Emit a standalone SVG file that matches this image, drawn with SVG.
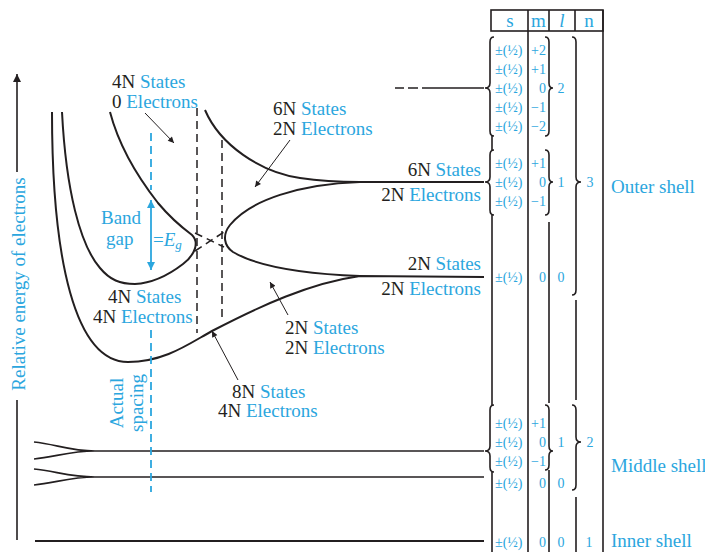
<svg xmlns="http://www.w3.org/2000/svg" width="705" height="552" viewBox="0 0 705 552">
<style>
.t{font-family:"Liberation Serif","Times New Roman",serif;font-size:19px;fill:#231f20}
.c{fill:#2ba6de}
.k{fill:#231f20}
.tb{font-family:"Liberation Serif","Times New Roman",serif;font-size:14px;fill:#2ba6de}
.hd{font-family:"Liberation Serif","Times New Roman",serif;font-size:19px;fill:#2ba6de;text-anchor:middle}
.curve{fill:none;stroke:#231f20;stroke-width:2}
.lvl{fill:none;stroke:#231f20;stroke-width:1.7}
.dash{fill:none;stroke:#231f20;stroke-width:1.5;stroke-dasharray:8 5}
.cdash{fill:none;stroke:#2ba6de;stroke-width:1.8;stroke-dasharray:8 5}
.ptr{fill:none;stroke:#231f20;stroke-width:1;marker-end:url(#ah)}
.rule{fill:none;stroke:#231f20;stroke-width:1.6}
</style>
<defs>
<marker id="ah" viewBox="0 0 10 10" refX="10" refY="5" markerWidth="9" markerHeight="6" orient="auto" markerUnits="userSpaceOnUse"><path d="M0,0 L10,5 L0,10 z" fill="#231f20"/></marker>
<marker id="cah" viewBox="0 0 10 10" refX="10" refY="5" markerWidth="12" markerHeight="8" orient="auto-start-reverse" markerUnits="userSpaceOnUse"><path d="M0,0 L10,5 L0,10 z" fill="#2ba6de"/></marker>
<marker id="kah" viewBox="0 0 10 10" refX="10" refY="5" markerWidth="12" markerHeight="8" orient="auto" markerUnits="userSpaceOnUse"><path d="M0,0 L10,5 L0,10 z" fill="#231f20"/></marker>
</defs>
<rect width="705" height="552" fill="#fff"/>

<g id="axis">
<line x1="17" y1="172" x2="17" y2="74" stroke="#231f20" stroke-width="1.6" marker-end="url(#kah)"/>
<line x1="17" y1="400" x2="17" y2="540" stroke="#231f20" stroke-width="1.6"/>
<text class="t c" transform="translate(25,284) rotate(-90)" text-anchor="middle">Relative energy of electrons</text>
</g>

<g id="bands">
<path class="curve" d="M52,112 C52,260 75,362 128,362 C165,362 190,343 212,331 C260,306 310,283 360,276 L484,277"/>
<path class="curve" d="M62,112 C66,190 80,245 100,268 C110,280 120,284 135,284 C155,283 170,274 183,264 C196,254 199,242 192,235 C180,226 168,215 158,203 C140,180 120,150 110,112"/>
<path class="curve" d="M205,110 C220,145 260,172 300,178 C320,181 340,182 360,182 L484,182"/>
<path class="curve" d="M360,182 C300,184 250,200 230,225 C222,235 224,246 233,252 C260,268 310,274 360,276"/>
</g>

<g id="inner-levels">
<path class="lvl" d="M34,442 C55,444 70,451 95,451 M34,459 C55,457 70,451 95,451 L484,451"/>
<path class="lvl" d="M34,469 C55,471 70,477 95,477 M34,485 C55,483 70,477 95,477 L484,477"/>
<line x1="35" y1="541" x2="484" y2="541" stroke="#231f20" stroke-width="2.2"/>
</g>

<g id="guides">
<line class="dash" x1="197" y1="108" x2="197" y2="333"/>
<line class="dash" x1="222" y1="140" x2="222" y2="322"/>
<line class="dash" x1="195" y1="233" x2="224" y2="247" stroke-dasharray="6 4"/>
<line class="dash" x1="195" y1="251" x2="224" y2="232" stroke-dasharray="6 4"/>
<line class="cdash" x1="151" y1="133" x2="151" y2="190"/>
<line x1="151" y1="200" x2="151" y2="270" stroke="#2ba6de" stroke-width="1.8" marker-start="url(#cah)" marker-end="url(#cah)"/>
<line class="cdash" x1="151" y1="330" x2="151" y2="492"/>
<path d="M395,88 L404,88 M408,88 L418,88 M422,88 L484,88" class="rule"/>
</g>

<g id="connectors">
<line class="ptr" x1="145" y1="113" x2="174" y2="143"/>
<line class="ptr" x1="290" y1="140" x2="255" y2="187"/>
<line class="ptr" x1="288" y1="315" x2="270" y2="282"/>
<line class="ptr" x1="238" y1="380" x2="212" y2="331"/>
</g>

<g id="label-4n0">
<text class="t" x="112" y="88"><tspan class="k">4N</tspan> <tspan class="c">States</tspan></text>
<text class="t" x="112" y="108"><tspan class="k">0</tspan> <tspan class="c">Electrons</tspan></text>
</g>
<g id="label-6n2-upper">
<text class="t" x="273" y="115"><tspan class="k">6N</tspan> <tspan class="c">States</tspan></text>
<text class="t" x="273" y="135"><tspan class="k">2N</tspan> <tspan class="c">Electrons</tspan></text>
</g>
<g id="label-6n2-right" text-anchor="end">
<text class="t" x="481" y="176"><tspan class="k">6N</tspan> <tspan class="c">States</tspan></text>
<text class="t" x="481" y="201"><tspan class="k">2N</tspan> <tspan class="c">Electrons</tspan></text>
</g>
<g id="label-2n2-right" text-anchor="end">
<text class="t" x="481" y="270"><tspan class="k">2N</tspan> <tspan class="c">States</tspan></text>
<text class="t" x="481" y="295"><tspan class="k">2N</tspan> <tspan class="c">Electrons</tspan></text>
</g>
<g id="label-2n2-mid">
<text class="t" x="285" y="334"><tspan class="k">2N</tspan> <tspan class="c">States</tspan></text>
<text class="t" x="285" y="354"><tspan class="k">2N</tspan> <tspan class="c">Electrons</tspan></text>
</g>
<g id="label-8n4">
<text class="t" x="232" y="398"><tspan class="k">8N</tspan> <tspan class="c">States</tspan></text>
<text class="t" x="218" y="417"><tspan class="k">4N</tspan> <tspan class="c">Electrons</tspan></text>
</g>
<g id="label-4n4">
<text class="t" x="108" y="303"><tspan class="k">4N</tspan> <tspan class="c">States</tspan></text>
<text class="t" x="93" y="323"><tspan class="k">4N</tspan> <tspan class="c">Electrons</tspan></text>
</g>
<g id="label-bandgap">
<text class="t c" x="101" y="224">Band</text>
<text class="t c" x="106" y="245">gap</text>
<text class="t c" x="153" y="246">=<tspan font-style="italic">E</tspan><tspan font-style="italic" font-size="13" dy="3">g</tspan></text>
</g>
<g id="label-spacing">
<text class="t c" transform="translate(123,403) rotate(-90)" text-anchor="middle">Actual</text>
<text class="t c" transform="translate(143,403) rotate(-90)" text-anchor="middle">spacing</text>
</g>

<g id="table">
<rect x="491" y="10" width="112" height="21" class="rule"/>
<path class="rule" d="M528,10 V552 M549,10 V31 M575,10 V31 M603,10 V552"/>
<path class="rule" d="M492,136 V150 M492,215 V405 M492,472 V552 M549,222 V403 M549,470 V552 M576,300 V400 M576,497 V552"/>
<text class="hd" x="510" y="27">s</text>
<text class="hd" x="538.5" y="27">m</text>
<text class="hd" x="562" y="27" font-style="italic">l</text>
<text class="hd" x="589" y="27">n</text>

<path class="rule" d="M494,37 Q490,37 490,42 V83 Q490,88 485,88 Q490,88 490,93 V131 Q490,136 494,136"/>
<path class="rule" d="M545,37 Q549,37 549,42 V83 Q549,88 553,88 Q549,88 549,93 V131 Q549,136 545,136"/>
<path class="rule" d="M572,37 Q576,37 576,42 V177 Q576,182 581,182 Q576,182 576,187 V290 Q576,295 572,295"/>
<path class="rule" d="M494,150 Q490,150 490,155 V177 Q490,182 485,182 Q490,182 490,187 V210 Q490,215 494,215"/>
<path class="rule" d="M545,150 Q549,150 549,155 V177 Q549,182 553,182 Q549,182 549,187 V210 Q549,215 545,215"/>
<path class="rule" d="M494,405 Q490,405 490,410 V446 Q490,451 485,451 Q490,451 490,456 V467 Q490,472 494,472"/>
<path class="rule" d="M545,405 Q549,405 549,410 V446 Q549,451 553,451 Q549,451 549,456 V465 Q549,470 545,470"/>
<path class="rule" d="M572,405 Q576,405 576,410 V437 Q576,442 581,442 Q576,442 576,447 V485 Q576,490 572,490"/>

<g class="tb">
<text x="495" y="55">±(½)</text><text x="495" y="74">±(½)</text><text x="495" y="93">±(½)</text><text x="495" y="112">±(½)</text><text x="495" y="131">±(½)</text>
<text x="495" y="168">±(½)</text><text x="495" y="187">±(½)</text><text x="495" y="206">±(½)</text>
<text x="495" y="282">±(½)</text>
<text x="495" y="428">±(½)</text><text x="495" y="447">±(½)</text><text x="495" y="466">±(½)</text><text x="495" y="488">±(½)</text>
<text x="495" y="547">±(½)</text>
</g>
<g class="tb" text-anchor="end">
<text x="546" y="55">+2</text><text x="546" y="74">+1</text><text x="546" y="93">0</text><text x="546" y="112">−1</text><text x="546" y="131">−2</text>
<text x="546" y="168">+1</text><text x="546" y="187">0</text><text x="546" y="206">−1</text>
<text x="546" y="282">0</text>
<text x="546" y="428">+1</text><text x="546" y="447">0</text><text x="546" y="466">−1</text><text x="546" y="488">0</text>
<text x="546" y="547">0</text>
</g>
<g class="tb" text-anchor="middle">
<text x="561" y="93">2</text><text x="561" y="187">1</text><text x="561" y="282">0</text>
<text x="561" y="447">1</text><text x="561" y="488">0</text><text x="561" y="547">0</text>
<text x="590" y="187">3</text><text x="590" y="447">2</text><text x="589" y="547">1</text>
</g>
</g>

<g id="shell-labels">
<text class="t c" x="611" y="193">Outer shell</text>
<text class="t c" x="611" y="472">Middle shell</text>
<text class="t c" x="611" y="547">Inner shell</text>
</g>
</svg>
